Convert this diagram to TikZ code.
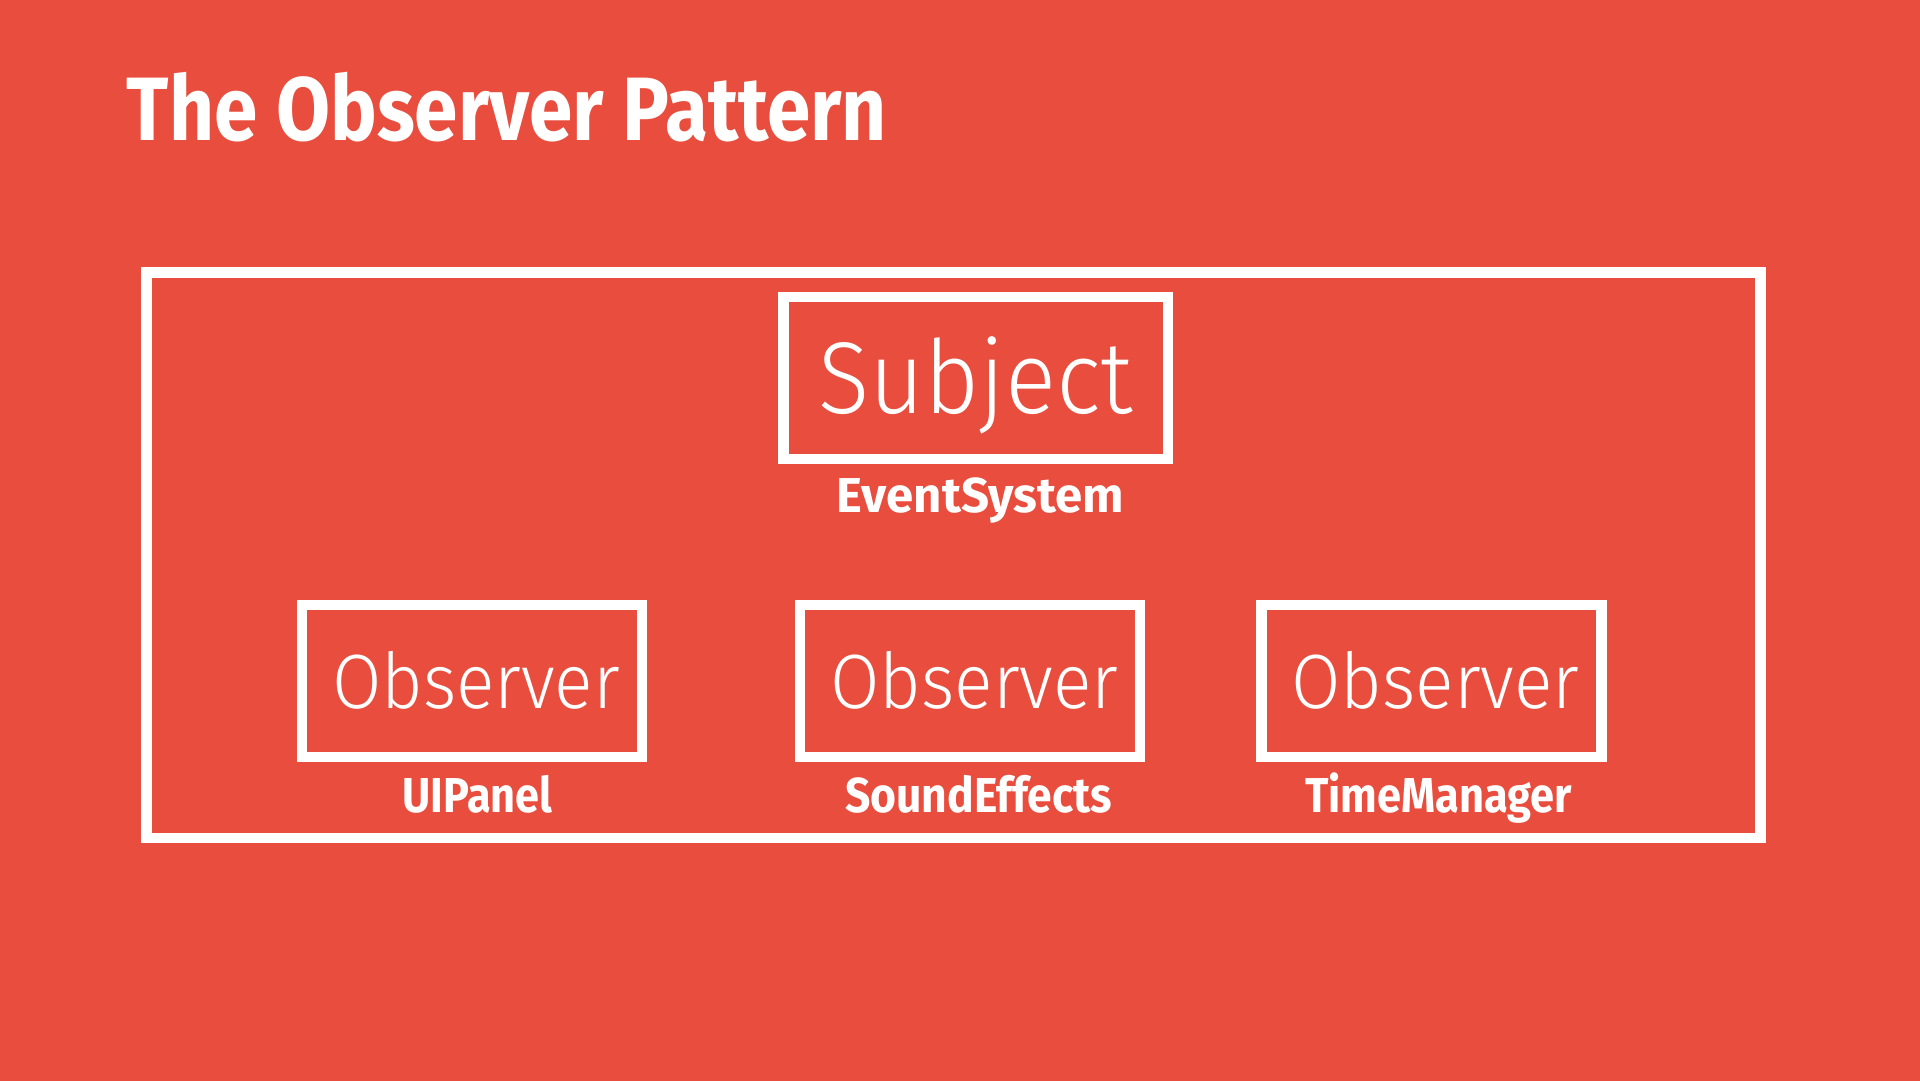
\documentclass[tikz,border=0pt]{standalone}
\usepackage{fontspec}
\usepackage{graphicx}
\setmainfont{Fira Sans}
\newfontfamily\thinfont{Fira Sans Light}
\newfontfamily\heavyfont{Fira Sans Bold}
\definecolor{slide}{HTML}{E84D3D}

% #1 target width (pt), #2 font size (pt), #3 font switch, #4 text
\newcommand\slidetext[4]{%
  \resizebox{#1pt}{\height}{#3\fontsize{#2pt}{#2pt}\selectfont #4}}

\begin{document}
\begin{tikzpicture}[x=1pt,y=-1pt,
  frame/.style={draw=white, line width=10.5pt, inner sep=0pt},
  obsbox/.style={frame, minimum width=340pt, minimum height=152pt},
  words/.style={text=white, inner sep=0pt, anchor=base}]

\useasboundingbox (0,0) rectangle (1920,1080);
\fill[slide] (-2,-2) rectangle (1922,1082);

% heading
\node[words] (title) at (507,140) {\slidetext{760}{90}{\heavyfont}{The Observer Pattern}};

% enclosing system frame
\node[frame, minimum width=1614pt, minimum height=565.5pt] (system) at (953.5,555.25) {};

% subject
\node[frame, minimum width=384.5pt, minimum height=162pt] (subject) at (975.75,378) {};
\node[words] (subjecttext) at (975.5,413) {\slidetext{315}{102}{\thinfont}{Subject}};
\node[words] (eventsystem) at (980.5,512) {\slidetext{287}{49}{\heavyfont}{EventSystem}};

% observers
\node[obsbox] (obsA) at (472,681) {};
\node[obsbox] (obsB) at (970,681) {};
\node[obsbox] (obsC) at (1431.5,681) {};

\node[words] (obsAtext) at (476,708) {\slidetext{288}{77}{\thinfont}{Observer}};
\node[words] (obsBtext) at (974.5,708) {\slidetext{288}{77}{\thinfont}{Observer}};
\node[words] (obsCtext) at (1435.5,708) {\slidetext{288}{77}{\thinfont}{Observer}};

\node[words] (uipanel) at (477.5,812) {\slidetext{150}{49}{\heavyfont}{UIPanel}};
\node[words] (soundfx) at (978.5,812) {\slidetext{267}{49}{\heavyfont}{SoundEffects}};
\node[words] (timemgr) at (1438.5,812) {\slidetext{267}{49}{\heavyfont}{TimeManager}};
\end{tikzpicture}
\end{document}
